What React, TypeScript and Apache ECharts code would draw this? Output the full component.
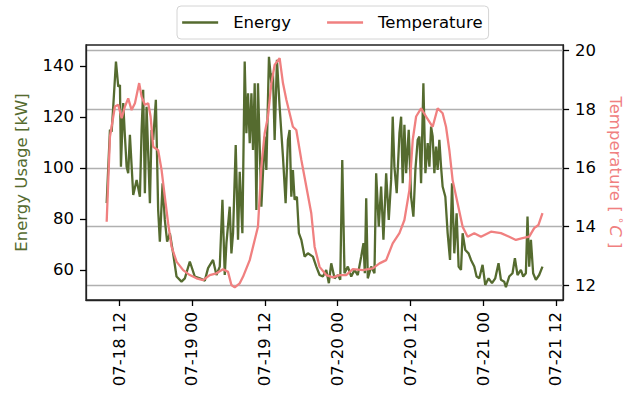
import React, { useEffect, useRef } from "react";
import * as echarts from "echarts";

// hours since 07-18 00:00
const energyHours = [
  9.93, 10.47, 10.75, 11.01, 11.46, 11.84, 12.12, 12.28, 12.66, 12.94, 13.22, 13.48, 13.76, 14.31, 14.87,
  15.41, 15.69, 15.95, 16.23, 16.51, 17.06, 17.33, 17.6, 18.04, 18.42, 18.7, 19.15, 19.52, 19.9, 20.35,
  20.89, 21.45, 22.27, 22.82, 23.64, 24.46, 25.29, 26.11, 26.65, 27.47, 28.03, 28.58, 29.02, 29.4, 29.68,
  30.22, 30.5, 30.77, 31.21, 31.59, 31.87, 32.31, 32.69, 32.97, 33.24, 33.52, 33.8, 34.06, 34.34, 34.62,
  34.88, 35.44, 35.99, 36.26, 36.69, 37.09, 37.35, 37.63, 38.01, 38.45, 39.0, 39.44, 39.82, 40.1, 40.38,
  40.64, 40.92, 41.3, 41.63, 42.03, 42.57, 43.11, 43.94, 44.5, 45.04, 45.58, 46.14, 46.57, 46.96, 47.51,
  48.05, 48.45, 48.78, 49.15, 49.7, 50.26, 50.8, 51.34, 51.9, 52.28, 52.5, 52.73, 52.99, 53.55, 54.09,
  54.37, 54.8, 55.19, 55.57, 56.02, 56.45, 56.84, 57.1, 57.38, 57.76, 58.21, 58.49, 58.75, 59.03, 59.31,
  59.74, 60.13, 60.51, 60.84, 61.22, 61.5, 61.78, 62.16, 62.49, 62.87, 63.15, 63.43, 63.69, 63.97, 64.25,
  64.51, 64.79, 65.07, 65.33, 65.78, 66.16, 66.55, 66.88, 67.26, 67.64, 67.97, 68.36, 68.63, 69.07, 69.61,
  70.01, 70.55, 70.93, 71.38, 71.92, 72.36, 72.91, 73.47, 74.01, 74.55, 74.95, 75.49, 75.77, 76.31, 76.86,
  77.25, 77.68, 78.24, 78.62, 79.06, 79.33, 79.61, 79.89, 80.26, 80.71, 81.25, 81.8,
];
const energyValues = [
  86.2, 114.9, 114.2, 124, 141.7, 131.9, 132.5, 100.5, 125.4, 112.3, 100.5, 97.9, 113, 89.4, 95.3,
  88.7, 114.9, 130.6, 90.1, 124, 86.2, 114.9, 111, 126.7, 83.5, 71.1, 94, 79.6, 71.1, 74.4,
  66.5, 57.4, 55.4, 56.7, 63.3, 57.4, 56.7, 55.8, 60.7, 63.9, 58, 61.3, 87.5, 58, 70.5,
  84.8, 66.5, 74.4, 109, 71.8, 98.5, 74.4, 141.7, 113.6, 129.3, 109.7, 129.3, 107, 133.2, 83.5,
  133.2, 84.8, 112.3, 99.2, 143.6, 133.2, 137.1, 111, 142.4, 124, 104.4, 86.2, 111, 114.9, 88.7,
  99.2, 87.5, 88.7, 74.4, 71.8, 65.2, 66.5, 65.2, 61.3, 58, 57.4, 60, 54.8, 62.6, 56.7,
  58, 56.1, 103.1, 58.7, 61.3, 57.4, 60, 58, 65.2, 70.5, 58.7, 88.1, 56.7, 61.3, 58.7,
  97.9, 77, 92.7, 71.8, 97.9, 79.6, 95.3, 120.1, 100.5, 90.1, 113.6, 120.1, 94, 116.9, 97.9,
  114.9, 88.7, 80.9, 99.2, 111, 112.3, 94, 133.2, 97.9, 109.7, 100.5, 116.2, 112.3, 97.9, 108.4,
  99.2, 111, 100.5, 92.7, 88.7, 74.4, 63.9, 94, 66.5, 82.2, 61.3, 60, 74.4, 67.8, 66.5,
  63.9, 61.3, 57.4, 56.7, 62, 54.1, 56.7, 54.8, 56.7, 62.6, 56.1, 55.4, 53.2, 57.4, 58.7,
  64.6, 58, 60, 57.4, 58.7, 80.9, 61.3, 71.8, 58.7, 56.1, 58, 61.3,
];

const tempHours = [
  9.93, 10.47, 11.29, 11.84, 12.4, 12.94, 13.48, 14.04, 14.59, 15.29, 15.69, 16.23, 16.78, 17.17, 17.6,
  18.42, 18.98, 19.52, 20.07, 20.63, 21.45, 22.54, 23.64, 24.74, 25.83, 26.93, 28.03, 29.12, 29.94, 30.5,
  31.05, 31.87, 32.41, 33.52, 34.34, 34.88, 35.44, 35.99, 36.53, 37.09, 37.63, 38.45, 39.0, 39.56, 40.1,
  40.64, 41.2, 42.03, 42.85, 43.67, 44.22, 45.04, 46.14, 47.23, 48.33, 49.43, 50.52, 52.17, 53.81, 54.92,
  56.02, 57.1, 58.21, 59.03, 59.85, 60.4, 60.96, 61.78, 62.6, 63.69, 64.51, 65.33, 65.89, 66.44, 66.98,
  67.8, 68.63, 69.45, 70.55, 71.66, 73.3, 74.95, 76.31, 77.42, 78.5, 79.61, 80.43, 81.14, 81.8,
];
const tempValues = [
  14.16, 17.06, 18.09, 18.15, 17.69, 18.09, 18.37, 17.97, 18.2, 18.89, 18.43, 18.15, 18.2, 17.75, 16.72,
  16.6, 15.93, 15.01, 14.1, 13.31, 12.8, 12.51, 12.34, 12.23, 12.17, 12.34, 12.4, 12.54, 12.45, 12.0,
  11.92, 12.06, 12.28, 12.85, 13.54, 13.99, 16.04, 17.18, 17.75, 18.89, 19.51, 19.74, 18.89, 18.32, 17.86,
  17.4, 17.29, 16.27, 15.36, 14.45, 13.31, 12.62, 12.34, 12.26, 12.34, 12.34, 12.54, 12.51, 12.57, 12.74,
  12.85, 13.42, 13.77, 14.22, 15.24, 16.95, 17.75, 18.03, 17.75, 17.4, 18.03, 17.86, 17.4, 16.6, 15.58,
  14.79, 13.99, 13.65, 13.77, 13.65, 13.82, 13.77, 13.65, 13.54, 13.6, 13.65, 13.94, 14.05, 14.45,
];

const xTickHours = [12, 24, 36, 48, 60, 72, 84];
const xTickLabels = ["07-18 12", "07-19 00", "07-19 12", "07-20 00", "07-20 12", "07-21 00", "07-21 12"];
const energyTicks = [60, 80, 100, 120, 140];
const tempTicks = [12, 14, 16, 18, 20];

const GREEN = "#556B2F";
const CORAL = "#F08080";
const FONT = "DejaVu Sans";
const FS = 16.5;

export default function App() {
  const ref = useRef<HTMLDivElement>(null);
  useEffect(() => {
    if (!ref.current) return;
    const chart = echarts.init(ref.current, undefined, { renderer: "svg" });
    const tick = { show: true, length: 6, inside: false, lineStyle: { color: "#000", width: 1.3 } };
    chart.setOption({
      animation: false,
      textStyle: { fontFamily: FONT },
      legend: {
        top: 6,
        left: 177,
        itemWidth: 36,
        itemHeight: 14,
        itemGap: 35,
        padding: [8, 6, 8, 4],
        borderColor: "#d4d4d4",
        borderWidth: 1,
        borderRadius: 4,
        itemStyle: { opacity: 0 },
        lineStyle: { width: 2.3 },
        textStyle: { fontFamily: FONT, fontSize: FS, color: "#000", padding: [0, 0, 0, 10] },
        data: ["Energy", "Temperature"],
      },
      grid: {
        left: 86,
        right: 68,
        top: 45,
        bottom: 94,
        show: true,
        borderColor: "#222",
        borderWidth: 1.3,
        containLabel: false,
      },
      xAxis: {
        type: "value",
        min: 6.52,
        max: 85.2,
        axisLine: { show: true, lineStyle: { color: "#222", width: 1.3 } },
        axisTick: { ...tick, customValues: xTickHours },
        splitLine: { show: false },
        axisLabel: {
          customValues: xTickHours,
          rotate: 90,
          margin: 12,
          fontFamily: FONT,
          fontSize: FS,
          color: "#000",
          formatter: (v: number) => {
            const i = xTickHours.indexOf(Math.round(v));
            return i >= 0 ? xTickLabels[i] : "";
          },
        },
      },
      yAxis: [
        {
          type: "value",
          position: "left",
          min: 48.2,
          max: 148.2,
          name: "Energy Usage [kW]",
          nameLocation: "middle",
          nameGap: 56,
          nameTextStyle: { color: GREEN, fontFamily: FONT, fontSize: FS },
          axisLine: { show: true, lineStyle: { color: "#222", width: 1.3 } },
          axisTick: { ...tick, customValues: energyTicks },
          axisLabel: { customValues: energyTicks, margin: 12, fontFamily: FONT, fontSize: FS, color: "#000" },
          splitLine: { show: false },
        },
        {
          type: "value",
          position: "right",
          min: 11.49,
          max: 20.19,
          name: "Temperature [ {d|°}{c|C} ]",
          nameLocation: "middle",
          nameGap: 43,
          nameRotate: -90,
          nameTextStyle: {
            color: CORAL,
            fontFamily: FONT,
            fontSize: FS,
            rich: {
              d: { color: CORAL, fontFamily: FONT, fontSize: 11, verticalAlign: "top", padding: [0, 2, 0, 0] },
              c: { color: CORAL, fontFamily: FONT, fontSize: FS, fontStyle: "italic" },
            },
          },
          axisLine: { show: true, lineStyle: { color: "#222", width: 1.3 } },
          axisTick: { ...tick, customValues: tempTicks },
          axisLabel: { customValues: tempTicks, margin: 12, fontFamily: FONT, fontSize: FS, color: "#000" },
          splitLine: { show: true, lineStyle: { color: "#b0b0b0", width: 1.3 } },
        },
      ],
      series: [
        {
          name: "Energy",
          type: "line",
          yAxisIndex: 0,
          symbol: "none",
          color: GREEN,
          lineStyle: { color: GREEN, width: 2.3 },
          data: energyHours.map((h, i) => [h, energyValues[i]]),
          z: 2,
        },
        {
          name: "Temperature",
          type: "line",
          yAxisIndex: 1,
          symbol: "none",
          color: CORAL,
          lineStyle: { color: CORAL, width: 2.3 },
          data: tempHours.map((h, i) => [h, tempValues[i]]),
          z: 3,
        },
      ],
    });
    return () => chart.dispose();
  }, []);
  return (
    <div
      ref={ref}
      style={{ position: "fixed", left: 0, top: 0, width: 632, height: 394, background: "#fff" }}
    />
  );
}
